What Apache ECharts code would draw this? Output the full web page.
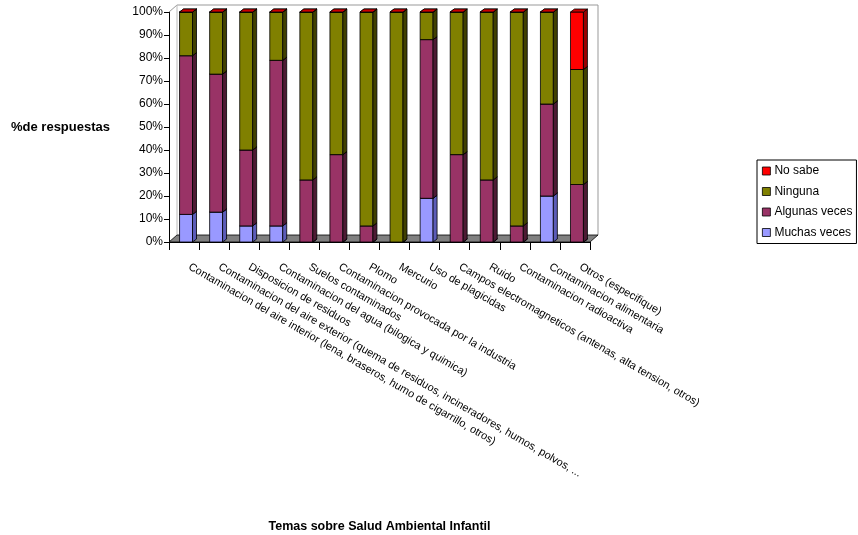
<!DOCTYPE html>
<html>
<head>
<meta charset="utf-8">
<script src="https://cdn.jsdelivr.net/npm/echarts@6/dist/echarts.min.js"></script>
<style>html,body{margin:0;padding:0;background:#fff}#c{width:858px;height:535px}</style>
</head>
<body>
<div id="c"></div>
<script>
const categories = [
  'Contaminacion del aire interior (lena, braseros, humo de cigarrillo, otros)',
  'Contaminacion del aire exterior (quema de residuos, incineradores, humos, polvos, ...',
  'Disposicion de residuos',
  'Contaminacion del agua (bilogica y quimica)',
  'Suelos contaminados',
  'Contaminacion provocada por la industria',
  'Plomo',
  'Mercurio',
  'Uso de plagicidas',
  'Campos electromagneticos (antenas, alta tension, otros)',
  'Ruido',
  'Contaminacion radioactiva',
  'Contaminacion alimentaria',
  'Otros (especifique)'
];
const muchasVeces  = [12, 13, 7, 7, 0, 0, 0, 0, 19, 0, 0, 0, 20, 0];
const algunasVeces = [69, 60, 33, 72, 27, 38, 7, 0, 69, 38, 27, 7, 40, 25];
const ninguna      = [19, 27, 60, 21, 73, 62, 93, 100, 12, 62, 73, 93, 40, 50];
const noSabe       = [0, 0, 0, 0, 0, 0, 0, 0, 0, 0, 0, 0, 0, 25];
const yTicks = [0, 10, 20, 30, 40, 50, 60, 70, 80, 90, 100];

const seriesDefs = [
  {name: 'Muchas veces', values: muchasVeces, color: '#9999FF', side: '#5c5cb8', top: '#7a7ae0'},
  {name: 'Algunas veces', values: algunasVeces, color: '#993366', side: '#4d1a33', top: '#7a2952'},
  {name: 'Ninguna', values: ninguna, color: '#808000', side: '#404000', top: '#666600'},
  {name: 'No sabe', values: noSabe, color: '#FF0000', side: '#990000', top: '#CC0000'}
];

const base = categories.map(() => 0);
const DX = 4, DY = -3;

function renderBar(params, api) {
  const cat = api.value(0), lo = api.value(1), hi = api.value(2);
  const pLo = api.coord([cat, lo]);
  const pHi = api.coord([cat, hi]);
  const band = api.size([1, 0])[0];
  const w = band * 0.43;
  const x = pLo[0] - w / 2 + 2;
  const def = seriesDefs[params.seriesIndex - 1];
  const st = {stroke: '#000', lineWidth: 0.8};
  return {
    type: 'group',
    children: [
      {type: 'rect', shape: {x: x, y: pHi[1], width: w, height: pLo[1] - pHi[1]},
        style: Object.assign({fill: def.color}, st)},
      {type: 'polygon', shape: {points: [[x + w, pHi[1]], [x + w + DX, pHi[1] + DY], [x + w + DX, pLo[1] + DY], [x + w, pLo[1]]]},
        style: Object.assign({fill: def.side}, st)},
      {type: 'polygon', shape: {points: [[x, pHi[1]], [x + DX, pHi[1] + DY], [x + w + DX, pHi[1] + DY], [x + w, pHi[1]]]},
        style: Object.assign({fill: def.top}, st)}
    ]
  };
}

function renderFrame(params, api) {
  const cs = params.coordSys;
  const x0 = cs.x, y0 = cs.y, w = cs.width, h = cs.height;
  const ox = 8, oy = -7;
  return {
    type: 'group',
    children: [
      {type: 'polyline', shape: {points: [[x0, y0], [x0 + ox, y0 + oy], [x0 + w + ox, y0 + oy], [x0 + w + ox, y0 + h + oy]]},
        style: {stroke: '#999', lineWidth: 1, fill: null}},
      {type: 'line', shape: {x1: x0 + ox, y1: y0 + oy, x2: x0 + ox, y2: y0 + h + oy},
        style: {stroke: '#bbb', lineWidth: 1}},
      {type: 'polygon', shape: {points: [[x0, y0 + h], [x0 + ox, y0 + h + oy], [x0 + w + ox, y0 + h + oy], [x0 + w, y0 + h]]},
        style: {fill: '#808080', stroke: '#000', lineWidth: 0.8}}
    ]
  };
}

const series = [{
  type: 'custom', name: '_frame', silent: true, z: 1,
  renderItem: renderFrame, data: [[0, 0]], encode: {x: 0, y: 1}
}];
seriesDefs.forEach(def => {
  const data = categories.map((c, i) => {
    const lo = base[i];
    const hi = lo + def.values[i];
    base[i] = hi;
    return [i, lo, hi];
  });
  series.push({
    type: 'custom', name: def.name, z: 2,
    itemStyle: {color: def.color},
    renderItem: renderBar, data: data,
    encode: {x: 0, y: [1, 2]}
  });
});

const chart = echarts.init(document.getElementById('c'), null, {renderer: 'canvas'});
chart.setOption({
  animation: false,
  textStyle: {fontFamily: 'Liberation Sans, Arial, sans-serif', color: '#000'},
  grid: {left: 169, right: 268, top: 12, bottom: 293, containLabel: false, outerBoundsMode: 'none'},
  legend: {
    orient: 'vertical', left: 757, top: 160,
    data: ['No sabe', 'Ninguna', 'Algunas veces', 'Muchas veces'].map(n => ({name: n, icon: 'rect'})),
    itemWidth: 8, itemHeight: 8, itemGap: 8.5,
    borderColor: '#000', borderWidth: 1, padding: [5, 4, 5, 5],
    itemStyle: {borderColor: '#000', borderWidth: 0.8},
    textStyle: {fontSize: 12, color: '#000', fontFamily: 'Liberation Sans, Arial, sans-serif', padding: [0, 0, 0, -1]}
  },
  xAxis: {
    type: 'category', data: categories,
    name: 'Temas sobre Salud Ambiental Infantil', nameLocation: 'middle', nameGap: 278,
    nameTextStyle: {fontWeight: 'bold', fontSize: 12.5, color: '#000'},
    axisLine: {lineStyle: {color: '#000', width: 1}},
    axisTick: {show: true, length: 8, lineStyle: {color: '#000'}},
    axisLabel: {rotate: -30, interval: 0, fontSize: 11, color: '#000', margin: 21, padding: [0, 0, 0, 6]}
  },
  yAxis: {
    type: 'value', min: yTicks[0], max: yTicks[yTicks.length - 1], interval: 10,
    name: '%de respuestas', nameLocation: 'middle', nameRotate: 0, nameGap: 59,
    nameTextStyle: {fontWeight: 'bold', fontSize: 13, color: '#000'},
    axisLine: {show: true, lineStyle: {color: '#000', width: 1}},
    axisTick: {show: true, length: 5, lineStyle: {color: '#000'}},
    splitLine: {show: false},
    axisLabel: {formatter: '{value}%', fontSize: 12, color: '#000', margin: 6}
  },
  series: series
});
</script>
</body>
</html>
